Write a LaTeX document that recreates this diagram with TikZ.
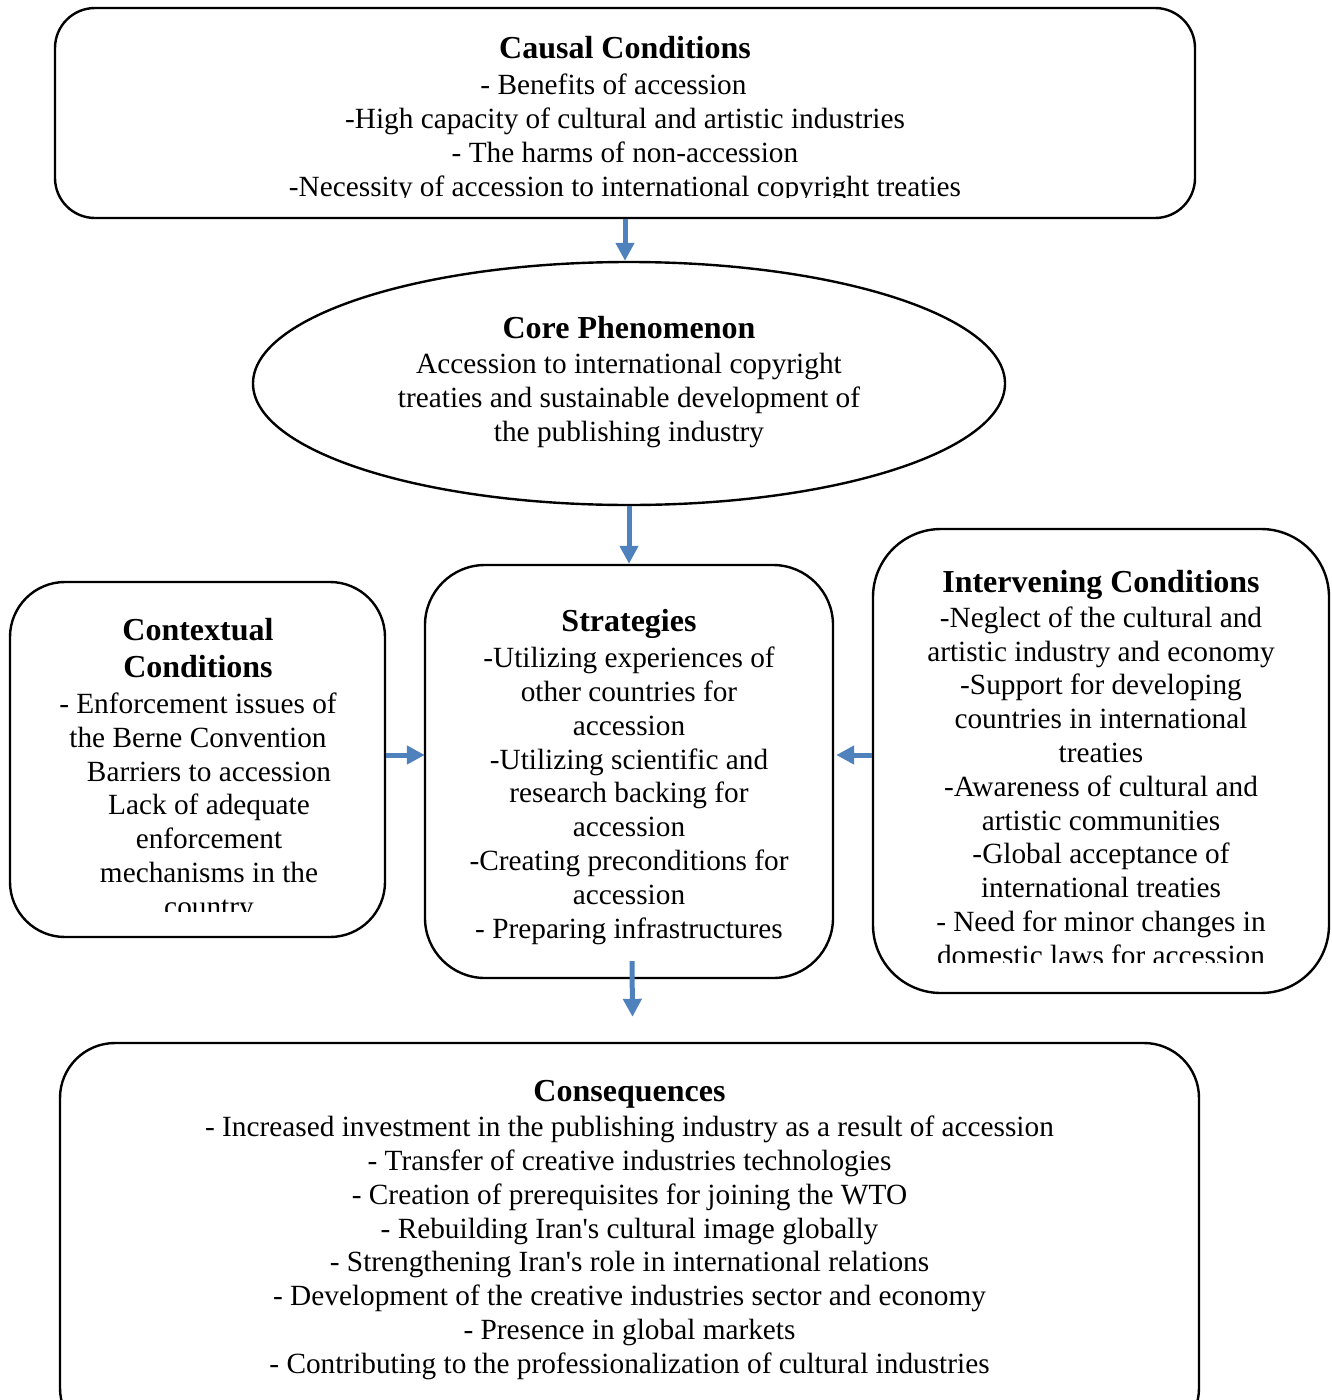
\documentclass[tikz,border=0pt]{standalone}
\usepackage{fontspec}
\setmainfont{Liberation Serif}[Ligatures=TeXOff]
\usetikzlibrary{shapes.geometric,arrows.meta}
\definecolor{flowblue}{HTML}{4F81BD}
\newcommand\boxtitle[1]{{\fontsize{32}{36}\selectfont\bfseries #1}}
\tikzset{
  panel/.style={draw=black, line width=2.4pt, rounded corners=#1, inner sep=0pt, fill=none},
  oval/.style={draw=black, line width=2.4pt, ellipse, inner sep=0pt},
  txt/.style={align=center, inner sep=0pt, anchor=north, font=\fontsize{29.3}{33.8}\selectfont},
  flow/.style={draw=flowblue, line width=5pt, -{Triangle[length=18pt,width=18pt]}},
}
\begin{document}
\begin{tikzpicture}[x=1pt,y=-1pt]
\useasboundingbox (0,0) rectangle (1331,1400);
\begin{scope}
\clip (0,0) rectangle (1331,1400);
% boxes
\node[panel=40pt, minimum width=1140pt, minimum height=210pt] (causal) at (625,113) {};
\node[oval, minimum width=752pt, minimum height=243pt] (core) at (629,383.5) {};
\node[panel=60pt, minimum width=408pt, minimum height=413pt] (strategies) at (629,771.5) {};
\node[panel=55pt, minimum width=375pt, minimum height=355pt] (contextual) at (197.5,759.5) {};
\node[panel=68pt, minimum width=456pt, minimum height=464pt] (intervening) at (1101,761) {};
\node[panel=55pt, minimum width=1139pt, minimum height=400pt] (conseq) at (629.5,1243) {};
% texts
\begin{scope}
\clip (0,0) rectangle (1331,197);
\node[txt] (causalT) at (625,36.5) {\boxtitle{Causal Conditions}\\[2pt]
- Benefits of accession\hspace*{23pt}\mbox{}\\
-High capacity of cultural and artistic industries\\
- The harms of non-accession\\
-Necessity of accession to international copyright treaties};
\end{scope}
\node[txt] (coreT) at (629,316.5) {\boxtitle{Core Phenomenon}\\[1pt]
Accession to international copyright\\
treaties and sustainable development of\\
the publishing industry};
\node[txt] (stratT) at (629,609.5) {\boxtitle{Strategies}\\[2pt]
-Utilizing experiences of\\
other countries for\\
accession\\
-Utilizing scientific and\\
research backing for\\
accession\\
-Creating preconditions for\\
accession\\
- Preparing infrastructures};
\begin{scope}
\clip (0,0) rectangle (1331,911);
\node[txt] (contT) at (198,618.5) {\boxtitle{Contextual}\\[3pt]
\boxtitle{Conditions}\\[2pt]
- Enforcement issues of\\
the Berne Convention\\
\hspace*{22pt}Barriers to accession\\
\hspace*{22pt}Lack of adequate\\
\hspace*{22pt}enforcement\\
\hspace*{22pt}mechanisms in the\\
\hspace*{22pt}country};
\end{scope}
\begin{scope}
\clip (0,0) rectangle (1331,962);
\node[txt] (intT) at (1101,570) {\boxtitle{Intervening Conditions}\\[1pt]
-Neglect of the cultural and\\
artistic industry and economy\\
-Support for developing\\
countries in international\\
treaties\\
-Awareness of cultural and\\
artistic communities\\
-Global acceptance of\\
international treaties\\
- Need for minor changes in\\
domestic laws for accession};
\end{scope}
\node[txt] (consT) at (629.5,1080.5) {\boxtitle{Consequences}\\[1pt]
- Increased investment in the publishing industry as a result of accession\\
- Transfer of creative industries technologies\\
- Creation of prerequisites for joining the WTO\\
- Rebuilding Iran's cultural image globally\\
- Strengthening Iran's role in international relations\\
- Development of the creative industries sector and economy\\
- Presence in global markets\\
- Contributing to the professionalization of cultural industries};
% connectors
\coordinate (midy) at (0,755);
\draw[flow] (causal.south) -- (causal.south |- core.north);
\draw[flow] (core.south) -- (strategies.north);
\draw[flow] (contextual.east |- midy) -- ([xshift=1pt]strategies.west |- midy);
\draw[flow] (intervening.west |- midy) -- ([xshift=2pt]strategies.east |- midy);
\draw[flow] ([xshift=3pt,yshift=18pt]strategies.south) -- ([xshift=3pt,yshift=25pt]conseq.north);
\end{scope}
\end{tikzpicture}
\end{document}
